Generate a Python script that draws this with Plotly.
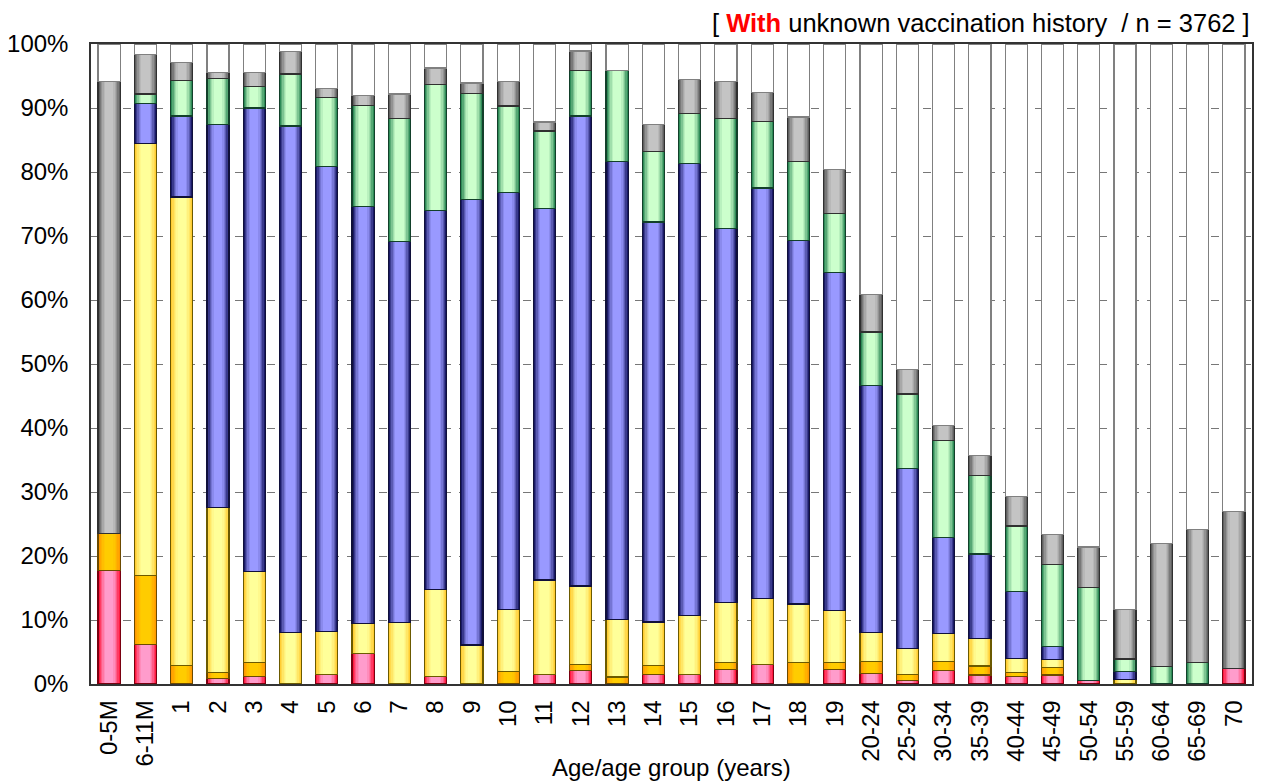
import plotly.graph_objects as go

categories = ["0-5M", "6-11M", "1", "2", "3", "4", "5", "6", "7", "8", "9", "10",
              "11", "12", "13", "14", "15", "16", "17", "18", "19", "20-24", "25-29",
              "30-34", "35-39", "40-44", "45-49", "50-54", "55-59", "60-64", "65-69", "70"]

red = [17.7, 6.2, 0, 0.8, 1.2, 0, 1.5, 4.8, 0, 1.2, 0, 0, 1.5, 2.1, 0, 1.45, 1.45, 2.3, 3.1, 0,
       2.3, 1.7, 0.5, 2.1, 1.4, 1.2, 1.4, 0.6, 0, 0, 0, 2.45]
orange = [5.8, 10.7, 2.9, 1.0, 2.1, 0, 0, 0, 0, 0, 0, 2.0, 0, 1.0, 1.1, 1.45, 0, 1.1, 0, 3.4,
          1.1, 1.8, 1.0, 1.4, 1.4, 0.6, 1.2, 0, 0, 0, 0, 0]
yellow = [0, 67.6, 73.2, 25.8, 14.3, 8.1, 6.7, 4.7, 9.6, 13.6, 6.1, 9.6, 14.75, 12.2, 9.0, 6.8,
          9.25, 9.3, 10.3, 9.1, 8.1, 4.6, 4.0, 4.4, 4.3, 2.2, 1.25, 0, 0.7, 0, 0, 0]
blue = [0, 6.2, 12.65, 59.8, 72.4, 79.1, 72.6, 65.1, 59.6, 59.2, 69.6, 65.2, 58.05, 73.45, 71.6,
        62.5, 70.6, 58.5, 64.1, 56.8, 52.8, 38.5, 28.2, 15.0, 13.2, 10.4, 2.05, 0, 1.3, 0, 0, 0]
green = [0, 1.5, 5.55, 7.2, 3.3, 8.1, 10.9, 15.8, 19.2, 19.7, 16.6, 13.5, 12.1, 7.05, 14.2, 11.0,
         7.9, 17.2, 10.4, 12.4, 9.2, 8.4, 11.6, 15.1, 12.3, 10.3, 12.8, 14.5, 1.9, 2.75, 3.4, 0]
gray = [70.6, 6.2, 2.8, 0.9, 2.2, 3.5, 1.4, 1.6, 3.8, 2.55, 1.6, 3.9, 1.4, 3.1, 0, 4.2, 5.3, 5.8,
        4.55, 6.9, 6.9, 5.8, 3.8, 2.4, 3.1, 4.6, 4.6, 6.3, 7.7, 19.15, 20.8, 24.45]

y_ticks = [0, 10, 20, 30, 40, 50, 60, 70, 80, 90, 100]
y_ticktext = [f"{v}%" for v in y_ticks]

# remainder up to 100 %
white = [round(100 - (r + o + y + b + g + k), 2)
         for r, o, y, b, g, k in zip(red, orange, yellow, blue, green, gray)]

series = [
    ("red", red, "#ff1a40", "#ff9ccc", "#7a0010"),
    ("orange", orange, "#ff9900", "#ffcc00", "#6b4a00"),
    ("yellow", yellow, "#ffcc33", "#ffff99", "#6b5a00"),
    ("blue", blue, "#1a1a66", "#9999ff", "#10103a"),
    ("green", green, "#2e8b57", "#ccffcc", "#12402a"),
    ("gray", gray, "#606060", "#c4c4c4", "#303030"),
    ("white", white, "#ffffff", "#ffffff", "#808080"),
]


def hex2rgb(h):
    h = h.lstrip("#")
    return tuple(int(h[i:i + 2], 16) for i in (0, 2, 4))


def mix(c1, c2, t):
    a, b = hex2rgb(c1), hex2rgb(c2)
    return "rgb(%d,%d,%d)" % tuple(round(a[i] + (b[i] - a[i]) * t) for i in range(3))


xs = list(range(len(categories)))
BW = 0.61
layers = [(1.0, 0.0), (0.86, 0.25), (0.74, 0.5), (0.62, 0.72), (0.5, 0.88), (0.38, 1.0)]

fig = go.Figure()
n_axes = len(layers) + 1
for li, (wf, t) in enumerate(layers):
    xa = "x" if li == 0 else f"x{li + 1}"
    for name, vals, edge, center, line in series:
        fig.add_trace(go.Bar(
            x=xs, y=[v if v > 0 else None for v in vals], name=name,
            xaxis=xa, yaxis="y", width=BW * wf,
            marker=dict(color=mix(edge, center, t), line=dict(width=0)),
            showlegend=False, hoverinfo="skip"))
# outline layer
xa = f"x{n_axes}"
for name, vals, edge, center, line in series:
    fig.add_trace(go.Bar(
        x=xs, y=[v if v > 0 else None for v in vals], name=name,
        xaxis=xa, yaxis="y", width=BW,
        marker=dict(color="rgba(0,0,0,0)", line=dict(width=1.2, color=line)),
        showlegend=False, hoverinfo="skip"))

FONT = "Liberation Sans, Arial, sans-serif"
layout = dict(
    barmode="stack",
    width=1263, height=782,
    margin=dict(l=91, r=11, t=44, b=98, autoexpand=False),
    paper_bgcolor="white", plot_bgcolor="white",
    font=dict(family=FONT, size=24, color="black"),
    xaxis=dict(range=[-0.5, len(categories) - 0.5], tickmode="array", tickvals=xs,
               ticktext=categories, tickangle=-90, showgrid=False, zeroline=False,
               showline=True, linecolor="#333", linewidth=1.5, mirror=True,
               ticks="", ticklabelstandoff=5, automargin=False,
               tickfont=dict(size=24, family=FONT)),
    yaxis=dict(range=[0, 100], tickmode="array", tickvals=y_ticks, ticktext=y_ticktext,
               showgrid=True, gridcolor="#777", griddash="8px,8px", gridwidth=1.2,
               zeroline=False, showline=True, linecolor="#333", linewidth=1.5, mirror=True,
               ticks="", ticklabelstandoff=16, automargin=False,
               tickfont=dict(size=24, family=FONT)),
)
for i in range(2, n_axes + 1):
    layout[f"xaxis{i}"] = dict(overlaying="x", range=[-0.5, len(categories) - 0.5],
                               visible=False, showgrid=False, zeroline=False)
fig.update_layout(**layout)

fig.add_annotation(
    x=1, y=1, xref="paper", yref="paper", xanchor="right", yanchor="bottom", yshift=5,
    showarrow=False, font=dict(size=25.5, family=FONT, color="black"),
    text="[ <b><span style='color:#ff0000'>With</span></b> unknown vaccination history  / n = 3762 ]")
fig.add_annotation(
    x=0.5, y=-0.131, xref="paper", yref="paper", xanchor="center", yanchor="middle",
    showarrow=False, font=dict(size=24, family=FONT, color="black"),
    text="Age/age group (years)")

fig.write_html("out.html", config={"displayModeBar": False},
               post_script="document.body.style.margin='0';document.body.style.overflow='hidden';")
